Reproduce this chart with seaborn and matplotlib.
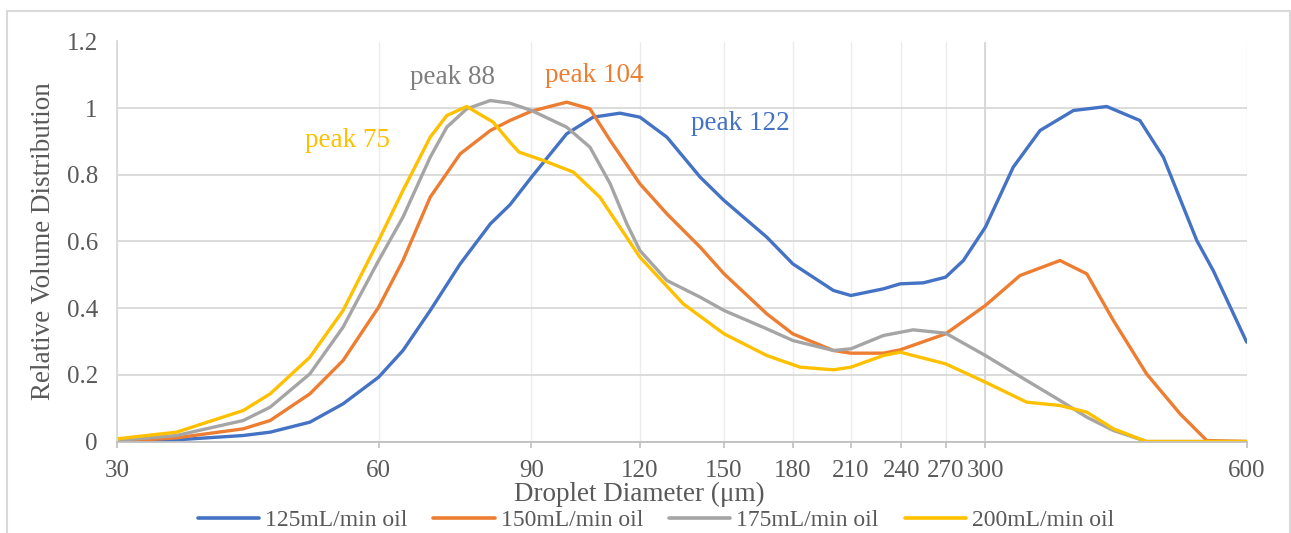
import numpy as np
import pandas as pd
import matplotlib
matplotlib.use("Agg")
import matplotlib.pyplot as plt
from matplotlib.ticker import FixedLocator, NullLocator, FixedFormatter
from matplotlib.patches import Rectangle
import seaborn as sns

# ---------------- data ----------------
series_names = ["125mL/min oil", "150mL/min oil", "175mL/min oil", "200mL/min oil"]
series_colors = ["#4472C4", "#ED7D31", "#A5A5A5", "#FFC000"]

x_125 = [30, 35.1, 41.9, 45.0, 50.0, 54.6, 60, 64.0, 68.8, 74.5, 80.7, 85.0, 90, 98.8,
         106.0, 113.8, 120, 128.9, 140.8, 150, 168, 180, 200.5, 210, 228.9, 239.3,
         254.5, 270, 283, 300, 323, 346.8, 378.9, 414, 452, 481, 525.6, 549, 600]
y_125 = [0.0, 0.005, 0.018, 0.028, 0.058, 0.113, 0.193, 0.273, 0.393, 0.533, 0.653, 0.71,
         0.793, 0.923, 0.973, 0.985, 0.973, 0.913, 0.793, 0.723, 0.613, 0.533, 0.453,
         0.438, 0.458, 0.473, 0.476, 0.493, 0.543, 0.643, 0.823, 0.933, 0.993, 1.005,
         0.963, 0.853, 0.603, 0.513, 0.298]

x_150 = [30, 35.1, 41.9, 45.0, 50.0, 54.6, 60, 64.0, 68.8, 74.5, 80.7, 85.0, 90, 98.8,
         105.1, 110.9, 120, 128.9, 140.8, 150, 168, 180, 200.5, 210, 228.9, 239.3, 270,
         300, 328.9, 365.7, 392.6, 421.3, 460, 502.8, 539.7, 600]
y_150 = [0.0, 0.011, 0.038, 0.063, 0.143, 0.243, 0.403, 0.543, 0.733, 0.863, 0.933, 0.963,
         0.991, 1.018, 0.998, 0.903, 0.773, 0.683, 0.583, 0.503, 0.383, 0.323, 0.273,
         0.265, 0.265, 0.275, 0.323, 0.408, 0.498, 0.543, 0.503, 0.363, 0.203, 0.083,
         0.003, 0.0]

x_175 = [30, 35.1, 41.9, 45.0, 50.0, 54.6, 60, 64.0, 68.8, 71.9, 75.8, 80.7, 85.0, 90,
         98.8, 105.1, 110.9, 115.9, 120, 128.9, 140.8, 150, 168, 180, 200.5, 210, 228.9,
         247.7, 270, 300, 334.7, 365.7, 392.6, 421.3, 460, 600]
y_175 = [0.003, 0.018, 0.063, 0.103, 0.203, 0.343, 0.543, 0.673, 0.853, 0.943, 0.998,
         1.023, 1.015, 0.993, 0.943, 0.883, 0.773, 0.653, 0.573, 0.483, 0.433, 0.393,
         0.338, 0.303, 0.273, 0.278, 0.318, 0.335, 0.325, 0.258, 0.183, 0.123, 0.073,
         0.033, 0.0, 0.0]

x_200 = [30, 35.1, 41.9, 45.0, 50.0, 54.6, 60, 64.0, 68.8, 71.9, 75.8, 81.3, 85.0, 87.1,
         92.9, 100.6, 107.9, 120, 134.6, 150, 168, 183.5, 200.5, 210, 228.9, 239.3, 270,
         300, 334.7, 365.7, 392.6, 421.3, 460, 600]
y_200 = [0.008, 0.028, 0.093, 0.143, 0.253, 0.393, 0.603, 0.753, 0.913, 0.978, 1.005,
         0.958, 0.898, 0.868, 0.843, 0.808, 0.733, 0.553, 0.413, 0.323, 0.258, 0.223,
         0.215, 0.223, 0.258, 0.268, 0.233, 0.178, 0.118, 0.108, 0.088, 0.038, 0.0, 0.0]

xtick_values = [30, 60, 90, 120, 150, 180, 210, 240, 270, 300, 600]
xtick_labels = ["30", "60", "90", "120", "150", "180", "210", "240", "270", "300", "600"]
ytick_values = [0, 0.2, 0.4, 0.6, 0.8, 1.0, 1.2]
ytick_labels = ["0", "0.2", "0.4", "0.6", "0.8", "1", "1.2"]

peak_labels = ["peak 122", "peak 104", "peak 88", "peak 75"]
peak_colors = ["#4472C4", "#ED7D31", "#7F7F7F", "#FFC000"]

x_title = "Droplet Diameter (μm)"
y_title = "Relative Volume Distribution"

# ---------------- build table ----------------
frames = []
for name, xs, ys in zip(series_names, [x_125, x_150, x_175, x_200],
                        [y_125, y_150, y_175, y_200]):
    frames.append(pd.DataFrame({"d": xs, "v": ys, "series": name}))
df = pd.concat(frames, ignore_index=True)

# ---------------- style ----------------
sns.set_theme(style="white")
plt.rcParams['font.family'] = ['Liberation Serif', 'DejaVu Serif']
text_color = "#595959"

W, H = 1291, 533
fig = plt.figure(figsize=(W / 100, H / 100), dpi=100)
L, R, T, B = 117.3, 1246.7, 41.5, 441.5
ax = fig.add_axes([L / W, 1 - B / H, (R - L) / W, (B - T) / H])

sns.lineplot(data=df, x="d", y="v", hue="series", hue_order=series_names,
             palette=series_colors, linewidth=2.4, estimator=None, sort=False,
             ax=ax, legend="auto")
for ln in ax.lines:
    ln.set_solid_joinstyle("round")
    ln.set_solid_capstyle("round")

ax.set_xscale("log")
ax.set_xlim(30, 600)
ax.set_ylim(0, 1.2)
ax.xaxis.set_major_locator(FixedLocator(xtick_values))
ax.xaxis.set_major_formatter(FixedFormatter(xtick_labels))
ax.xaxis.set_minor_locator(NullLocator())
ax.set_yticks(ytick_values)
ax.set_yticklabels(ytick_labels)

ax.set_axisbelow(True)
ax.grid(axis="x", color="#ececec", linewidth=1.0)
ax.grid(axis="y", color="#d9d9d9", linewidth=1.3)
ax.axvline(300, color="#d6d6d6", linewidth=1.3, zorder=0.6)

for s in ["top", "right"]:
    ax.spines[s].set_visible(False)
ax.spines["left"].set_color("#d9d9d9")
ax.spines["left"].set_linewidth(1.3)
ax.spines["bottom"].set_color("#bfbfbf")
ax.spines["bottom"].set_linewidth(1.3)

ax.tick_params(axis="x", length=4, width=1.2, color="#bfbfbf", direction="out",
               labelsize=18, labelcolor=text_color, pad=9, bottom=True)
ax.tick_params(axis="y", length=0, labelsize=18, labelcolor=text_color, pad=14)

ax.set_xlabel(x_title, fontsize=19.5, color=text_color)
ax.set_ylabel(y_title, fontsize=19.5, color=text_color)
ax.xaxis.set_label_coords((639 - L) / (R - L), (B - 494) / (B - T))
ax.xaxis.label.set_va("center")
ax.yaxis.set_label_coords((44 - L) / (R - L), 0.5)
ax.yaxis.label.set_va("center")

# peak annotations
peak_pos = [(156.5, 0.954), (106.2, 1.098), (72.9, 1.092), (55.3, 0.903)]
for lab, col, (px, py) in zip(peak_labels, peak_colors, peak_pos):
    ax.text(px, py, lab, color=col, fontsize=19.5, ha="center", va="center")

# legend
leg = ax.get_legend()
handles = leg.legend_handles
labels = [t.get_text() for t in leg.get_texts()]
leg.remove()
for h, c in zip(handles, series_colors):
    h.set_linewidth(2.6)
    h.set_color(c)
fig.legend(handles, labels, loc="center", bbox_to_anchor=(656 / W, 1 - 520 / H),
           ncol=4, frameon=False, fontsize=17, handlelength=2.6, handletextpad=0.25,
           columnspacing=1.1, labelcolor=text_color, borderaxespad=0, borderpad=0)

# chart border
fig.patches.append(Rectangle((7 / W, -0.1), (1290 - 7) / W, 1 - 11 / H + 0.1,
                             transform=fig.transFigure, fill=False,
                             edgecolor="#d9d9d9", linewidth=1.5))

fig.savefig("out.png", dpi=100)
